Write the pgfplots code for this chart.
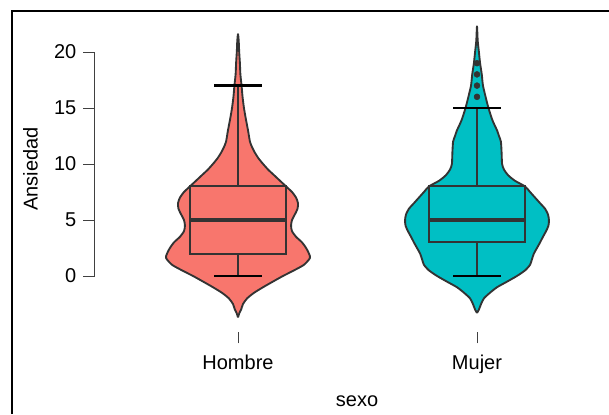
\documentclass[border=0pt]{standalone}
\usepackage{fontspec}
\setmainfont{Liberation Sans}
\usepackage{pgfplots}
\pgfplotsset{compat=1.18}
\usepackage{pgfplotstable}

\definecolor{hombre}{HTML}{F8766D}
\definecolor{mujer}{HTML}{00BFC4}
\definecolor{edge}{HTML}{333333}

% violin outlines: y = Ansiedad, d = signed half width (x units),
% right side going up, left side coming down
\pgfplotstableread{
y d
-3.7 0
-3.3 0.006
-3 0.013
-2.5 0.021
-2 0.038
-1.5 0.067
-1 0.105
-0.5 0.146
0 0.188
0.5 0.234
1 0.276
1.6 0.301
2 0.297
2.5 0.285
3 0.268
3.5 0.243
4 0.226
4.5 0.222
5 0.226
5.5 0.238
6 0.249
6.5 0.251
7 0.243
7.5 0.226
8 0.201
8.5 0.176
9 0.151
9.5 0.126
10 0.105
10.5 0.086
11 0.071
11.5 0.059
12 0.050
13 0.042
14 0.033
15 0.025
16 0.019
17 0.015
18 0.010
19 0.008
20 0.005
21 0.003
21.6 0
21 -0.003
20 -0.005
19 -0.008
18 -0.010
17 -0.015
16 -0.019
15 -0.025
14 -0.033
13 -0.042
12 -0.050
11.5 -0.059
11 -0.071
10.5 -0.086
10 -0.105
9.5 -0.126
9 -0.151
8.5 -0.176
8 -0.201
7.5 -0.226
7 -0.243
6.5 -0.251
6 -0.249
5.5 -0.238
5 -0.226
4.5 -0.222
4 -0.226
3.5 -0.243
3 -0.268
2.5 -0.285
2 -0.297
1.6 -0.301
1 -0.276
0.5 -0.234
0 -0.188
-0.5 -0.146
-1 -0.105
-1.5 -0.067
-2 -0.038
-2.5 -0.021
-3 -0.013
-3.3 -0.006
-3.7 0
}\violinH

\pgfplotstableread{
y d
-3.3 0
-3 0.008
-2.5 0.017
-2 0.029
-1.5 0.054
-1 0.084
-0.5 0.126
0 0.167
0.5 0.201
1 0.222
1.5 0.230
2 0.238
2.5 0.251
3 0.264
3.5 0.276
4 0.289
4.5 0.299
5 0.301
5.5 0.297
6 0.285
6.5 0.264
7 0.243
7.5 0.222
8 0.201
8.5 0.159
9 0.130
9.5 0.113
10 0.105
11 0.103
12 0.100
12.5 0.092
13 0.084
13.5 0.073
14 0.063
15 0.048
16 0.036
17 0.025
18 0.020
19 0.013
20 0.008
21 0.003
22.3 0
21 -0.003
20 -0.008
19 -0.013
18 -0.020
17 -0.025
16 -0.036
15 -0.048
14 -0.063
13.5 -0.073
13 -0.084
12.5 -0.092
12 -0.100
11 -0.103
10 -0.105
9.5 -0.113
9 -0.130
8.5 -0.159
8 -0.201
7.5 -0.222
7 -0.243
6.5 -0.264
6 -0.285
5.5 -0.297
5 -0.301
4.5 -0.299
4 -0.289
3.5 -0.276
3 -0.264
2.5 -0.251
2 -0.238
1.5 -0.230
1 -0.222
0.5 -0.201
0 -0.167
-0.5 -0.126
-1 -0.084
-1.5 -0.054
-2 -0.029
-2.5 -0.017
-3 -0.008
-3.3 0
}\violinM

\begin{document}
\fontsize{15}{18}\selectfont
\begin{tikzpicture}
\begin{axis}[
    scale only axis,
    width=380pt, height=235.2pt,
    xmin=0.4, xmax=2.52,
    ymin=-5, ymax=23,
    axis y line*=left, axis x line*=bottom,
    axis line style={draw=none},
    tick align=outside,
    major tick length=8.5pt,
    tick style={black!75, line width=0.6pt},
    xtick={1,2}, xticklabels={Hombre,Mujer},
    xticklabel style={yshift=-3.75pt},
    ytick={0,5,10,15,20},
    minor tick num=0,
    /pgf/number format/assume math mode=true,
    clip=false,
    xlabel={sexo}, ylabel={Ansiedad},
    xlabel style={at={(axis description cs:0.518,-0.222)}, anchor=center},
    ylabel style={at={(axis description cs:-0.1265,0.52)}, anchor=center},
]
% violins
\addplot[fill=hombre, draw=edge, line width=1.4pt, line join=round, smooth, tension=0.4]
    table[x expr=1+\thisrow{d}, y=y] {\violinH};
\addplot[fill=mujer, draw=edge, line width=1.4pt, line join=round, smooth, tension=0.4]
    table[x expr=2+\thisrow{d}, y=y] {\violinM};

% Hombre box
\addplot[edge, line width=1.4pt] coordinates {(1,8) (1,17)};
\addplot[edge, line width=1.4pt] coordinates {(1,2) (1,0)};
\addplot[edge, line width=1.4pt] coordinates {(0.8,2) (1.2,2) (1.2,8) (0.8,8)} -- cycle;
\addplot[edge, line width=3pt] coordinates {(0.8,5) (1.2,5)};
\addplot[black, line width=1.7pt] coordinates {(0.9,17) (1.1,17)};
\addplot[black, line width=1.7pt] coordinates {(0.9,0) (1.1,0)};

% Mujer box
\addplot[edge, line width=1.4pt] coordinates {(2,8) (2,15)};
\addplot[edge, line width=1.4pt] coordinates {(2,3) (2,0)};
\addplot[edge, line width=1.4pt] coordinates {(1.8,3) (2.2,3) (2.2,8) (1.8,8)} -- cycle;
\addplot[edge, line width=3pt] coordinates {(1.8,5) (2.2,5)};
\addplot[black, line width=1.7pt] coordinates {(1.9,15) (2.1,15)};
\addplot[black, line width=1.7pt] coordinates {(1.9,0) (2.1,0)};
\addplot[only marks, mark=*, mark size=2.2pt, edge, mark options={fill=edge}]
    coordinates {(2,16) (2,17) (2,18) (2,19)};

\draw[black!75, line width=0.6pt] (axis cs:0.4,0) -- (axis cs:0.4,20);
\end{axis}
\useasboundingbox (-70.95pt,-61.5pt) rectangle (385.8pt,249pt);
\draw[line width=1.5pt] (-61.95pt,-61.5pt) -- (-61.95pt,240.9pt) -- (385.8pt,240.9pt);
\end{tikzpicture}
\end{document}
